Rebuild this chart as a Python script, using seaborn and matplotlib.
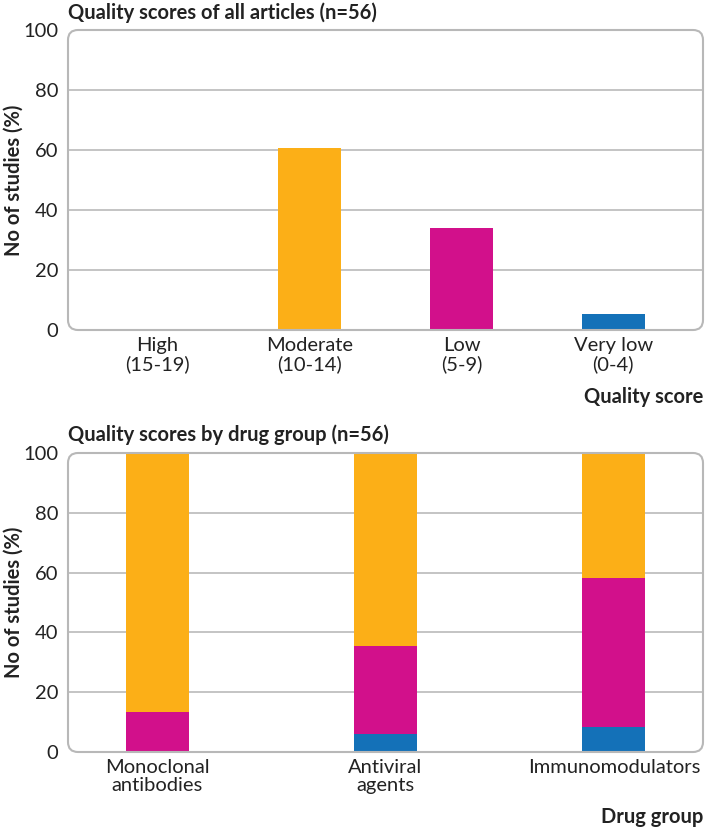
import matplotlib
matplotlib.use("Agg")
import matplotlib.pyplot as plt
import seaborn as sns
import pandas as pd
from matplotlib.patches import FancyBboxPatch

# --- data ---
score_categories = ["High\n(15-19)", "Moderate\n(10-14)", "Low\n(5-9)", "Very low\n(0-4)"]
score_pct = [0.0, 60.7, 33.9, 5.4]
score_colors = ["#1471b8", "#fcaf17", "#d2108b", "#1471b8"]

drug_groups = ["Monoclonal\nantibodies", "Antiviral\nagents", "Immunomodulators"]
very_low_pct = [0.0, 5.9, 8.3]
low_pct = [13.3, 29.4, 50.0]
moderate_pct = [86.7, 64.7, 41.7]

ORANGE = "#fcaf17"
MAGENTA = "#d2108b"
BLUE = "#1471b8"

sns.set_theme(style="white")
plt.rcParams["font.family"] = ["Lato", "DejaVu Sans"]

W, H = 705, 830
TXT = "#222222"
fig = plt.figure(figsize=(W / 100, H / 100), dpi=100)


def ax_rect(left, top, right, bottom):
    return [left / W, 1 - bottom / H, (right - left) / W, (bottom - top) / H]


def style_axes(ax, xlim):
    ax.set_xlim(*xlim)
    ax.set_ylim(0, 100)
    ax.set_yticks([0, 20, 40, 60, 80, 100])
    for s in ax.spines.values():
        s.set_visible(False)
    for y in [20, 40, 60, 80]:
        ax.axhline(y, color="#c4c4c4", lw=1.4, zorder=0)
    ax.tick_params(axis="both", length=0, labelsize=14.5, colors=TXT)
    ax.tick_params(axis="y", pad=7)
    ax.tick_params(axis="x", pad=5)
    for lab in ax.get_xticklabels():
        lab.set_linespacing(1.1)
    # rounded frame
    bb = ax.get_window_extent()
    asp = bb.width / bb.height
    r = 10 / bb.width
    frame = FancyBboxPatch((0, 0), 1, 1, boxstyle=f"round,pad=0,rounding_size={r}",
                           mutation_aspect=asp, transform=ax.transAxes,
                           fill=False, edgecolor="#b8b8b8", lw=1.5, clip_on=False, zorder=5)
    ax.add_patch(frame)
    ax.set_xlabel("")
    ax.set_ylabel("No of studies (%)", fontsize=14.5, fontweight="bold", color=TXT)
    ax.yaxis.label.set_va("center")
    ax.yaxis.set_label_coords((14 - 68) / 635, 0.5)


# --- top panel ---
ax1 = fig.add_axes(ax_rect(68, 30, 703, 330))
df1 = pd.DataFrame({"score": score_categories, "pct": score_pct})
sns.barplot(data=df1, x="score", y="pct", hue="score", palette=score_colors,
            width=0.414, legend=False, saturation=1, linewidth=0, ax=ax1, zorder=3)
style_axes(ax1, (-0.59, 3.59))
fig.text(68 / W, 1 - 13 / H, "Quality scores of all articles (n=56)", fontsize=14.5,
         fontweight="bold", ha="left", va="center", color=TXT)
fig.text(703 / W, 1 - 397 / H, "Quality score", fontsize=14.5, fontweight="bold",
         ha="right", va="center", color=TXT)

# --- bottom panel (stacked) ---
ax2 = fig.add_axes(ax_rect(68, 453, 703, 752))
low_cum = [a + b for a, b in zip(very_low_pct, low_pct)]
top_cum = [a + b for a, b in zip(low_cum, moderate_pct)]
df2 = pd.DataFrame({"group": drug_groups, "vl": very_low_pct, "low": low_cum, "mod": top_cum})
for col, c in [("mod", ORANGE), ("low", MAGENTA), ("vl", BLUE)]:
    sns.barplot(data=df2, x="group", y=col, color=c, width=0.276, saturation=1,
                linewidth=0, ax=ax2, zorder=3)
style_axes(ax2, (-0.39, 2.39))
fig.text(68 / W, 1 - 435 / H, "Quality scores by drug group (n=56)", fontsize=14.5,
         fontweight="bold", ha="left", va="center", color=TXT)
fig.text(703 / W, 1 - 817 / H, "Drug group", fontsize=14.5, fontweight="bold",
         ha="right", va="center", color=TXT)

fig.savefig("out.png", dpi=100)
